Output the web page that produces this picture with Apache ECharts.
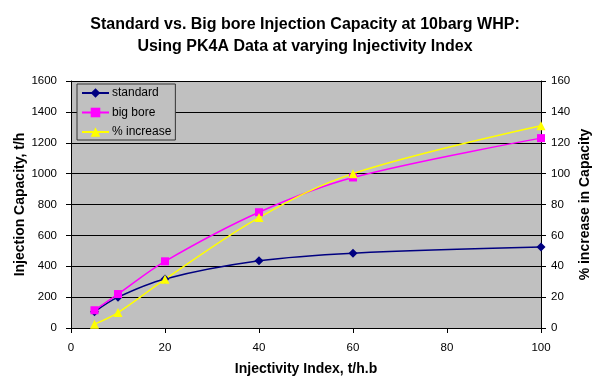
<!DOCTYPE html>
<html>
<head>
<meta charset="utf-8">
<script src="https://cdn.jsdelivr.net/npm/echarts@6/dist/echarts.min.js"></script>
<style>
html, body { margin: 0; padding: 0; background: #fff; }
#chart { width: 597px; height: 378px; }
</style>
</head>
<body>
<div id="chart"></div>
<script>
// injectivity index, t/h.b
var injIndex = [5, 10, 20, 40, 60, 100];
// injection capacity, t/h
var standardCap = [105, 200, 318, 435, 485, 525];
var bigBoreCap = [115, 220, 432, 750, 975, 1230];
// % increase in capacity
var pctIncrease = [2.5, 10, 31.5, 71.5, 100, 131];

function pairs(xs, ys) {
    var out = [];
    for (var i = 0; i < xs.length; i++) {
        out.push([xs[i], ys[i]]);
    }
    return out;
}

function plain(v) {
    return String(v);
}

var chart = echarts.init(document.getElementById('chart'));
var font = 'Liberation Sans, Arial, sans-serif';
var option = {
    backgroundColor: '#fff',
    animation: false,
    textStyle: { fontFamily: font },
    title: {
        text: 'Standard vs. Big bore Injection Capacity at 10barg WHP:\nUsing PK4A Data at varying Injectivity Index',
        left: 300,
        textAlign: 'center',
        top: 9,
        textStyle: { fontSize: 16, fontWeight: 'bold', color: '#000', lineHeight: 22, fontFamily: font }
    },
    legend: {
        orient: 'vertical',
        left: 77,
        top: 84,
        padding: [3, 4, 2, 4],
        itemGap: 7.5,
        itemWidth: 27,
        itemHeight: 12,
        backgroundColor: '#C0C0C0',
        borderColor: '#333',
        borderWidth: 1,
        borderRadius: 0,
        textStyle: { fontSize: 12, color: '#000', fontFamily: font, padding: [0, 0, 0, -2] },
        data: ['standard', 'big bore', '% increase']
    },
    grid: {
        left: 71, right: 56, top: 81, bottom: 50,
        outerBoundsMode: 'none',
        containLabel: false,
        backgroundColor: '#C0C0C0', show: true, borderWidth: 0
    },
    xAxis: {
        type: 'value',
        min: 0, max: 100, interval: 20,
        name: 'Injectivity Index, t/h.b',
        nameLocation: 'middle',
        nameGap: 34,
        nameMoveOverlap: false,
        nameTextStyle: { fontSize: 14, fontWeight: 'bold', color: '#000' },
        axisLine: { lineStyle: { color: '#000' } },
        axisTick: { length: 5, inside: false, lineStyle: { color: '#000' } },
        axisLabel: { fontSize: 11.5, color: '#000', margin: 14, formatter: plain },
        splitLine: { show: false }
    },
    yAxis: [{
        type: 'value',
        min: 0, max: 1600, interval: 200,
        name: 'Injection Capacity, t/h',
        nameLocation: 'middle',
        nameGap: 44,
        nameMoveOverlap: false,
        nameTextStyle: { fontSize: 14, fontWeight: 'bold', color: '#000' },
        axisLine: { show: true, lineStyle: { color: '#000' } },
        axisTick: { show: true, length: 5, lineStyle: { color: '#000' } },
        axisLabel: { fontSize: 11.5, color: '#000', margin: 14, formatter: plain },
        splitLine: { show: true, lineStyle: { color: '#000', width: 1 } }
    }, {
        type: 'value',
        min: 0, max: 160, interval: 20,
        name: '% increase in Capacity',
        nameLocation: 'middle',
        nameGap: 37,
        nameRotate: 90,
        nameMoveOverlap: false,
        nameTextStyle: { fontSize: 14, fontWeight: 'bold', color: '#000' },
        axisLine: { show: true, lineStyle: { color: '#000' } },
        axisTick: { show: true, length: 5, lineStyle: { color: '#000' } },
        axisLabel: { fontSize: 11.5, color: '#000', margin: 10, formatter: plain },
        splitLine: { show: false }
    }],
    series: [{
        name: 'standard',
        type: 'line',
        smooth: 0.35,
        data: pairs(injIndex, standardCap),
        symbol: 'diamond',
        symbolSize: 9,
        color: '#000080',
        lineStyle: { width: 1.5, color: '#000080' },
        itemStyle: { color: '#000080' }
    }, {
        name: 'big bore',
        type: 'line',
        smooth: 0.35,
        data: pairs(injIndex, bigBoreCap),
        symbol: 'rect',
        symbolSize: 8,
        color: '#FF00FF',
        lineStyle: { width: 1.5, color: '#FF00FF' },
        itemStyle: { color: '#FF00FF' }
    }, {
        name: '% increase',
        type: 'line',
        yAxisIndex: 1,
        smooth: 0.35,
        data: pairs(injIndex, pctIncrease),
        symbol: 'triangle',
        symbolSize: 9,
        color: '#FFFF00',
        lineStyle: { width: 1.5, color: '#FFFF00' },
        itemStyle: { color: '#FFFF00' }
    }]
};
chart.setOption(option);
</script>
</body>
</html>
